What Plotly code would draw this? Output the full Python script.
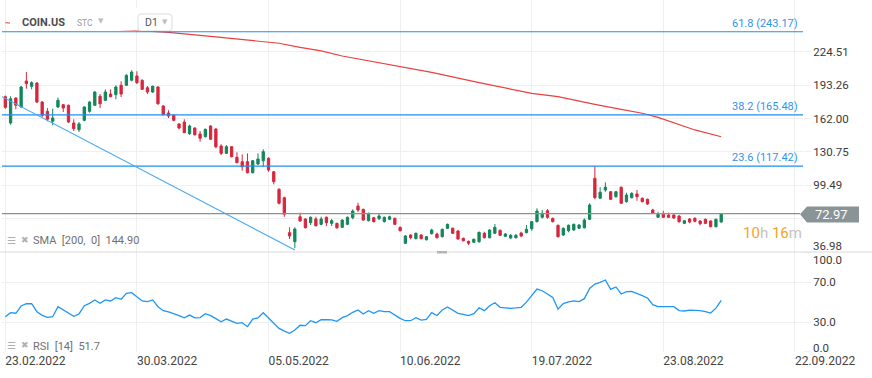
import plotly.graph_objects as go

# ---------------- data ----------------
bar_index = list(range(137))
opens = [182.4,157.8,181.2,172.8,197.1,192.1,195.2,177.4,168.7,159.4,172.8,174.9,174.4,157.8,151.5,160.3,168.7,174.4,182.8,179.0,
         184.9,184.3,193.1,193.1,197.8,201.8,197.8,190.8,186.8,191.5,173.7,167.2,165.0,156.9,158.7,147.8,153.1,147.5,145.0,155.0,
         152.2,136.3,129.4,135.6,125.7,121.6,121.6,111.3,119.4,122.5,124.8,112.2,95.8,87.9,55.2,46.7,70.1,68.0,64.5,68.0,
         63.0,69.6,63.9,63.9,60.2,63.0,69.2,80.1,77.0,66.4,69.2,68.3,65.5,67.7,68.6,60.2,45.2,53.0,49.6,53.0,
         48.6,54.2,53.9,51.4,59.3,59.3,56.8,49.9,47.1,46.2,46.7,54.6,50.5,54.6,57.4,51.8,50.2,50.5,54.9,55.2,
         58.9,65.5,69.6,75.7,68.6,62.1,53.0,57.0,57.7,59.3,59.8,67.7,106.1,87.4,95.1,93.5,88.9,97.7,84.2,87.9,
         91.4,87.4,86.4,76.4,69.6,72.4,71.7,71.7,70.8,63.9,68.0,68.6,66.1,67.7,66.1,60.8,65.2]
highs = [183.5,182.8,181.8,192.4,205.5,196.8,196.0,178.4,171.8,171.2,181.5,175.6,175.0,161.3,158.7,173.4,178.1,187.5,184.9,189.3,
         189.3,193.1,196.8,203.4,207.1,206.2,198.5,192.4,192.8,192.2,174.5,169.7,165.8,157.6,161.3,156.2,153.8,150.3,152.6,155.7,
         152.9,137.9,137.2,136.3,130.4,128.5,129.4,123.2,129.4,133.2,125.7,112.9,96.7,88.9,60.2,60.2,73.9,68.7,70.3,70.1,
         70.1,70.3,68.0,64.6,67.7,70.3,77.0,83.2,77.7,74.0,70.0,73.3,70.3,71.1,69.3,60.9,53.0,53.7,55.3,53.7,
         52.1,58.9,55.2,59.0,63.7,60.0,57.5,50.6,47.8,49.7,56.2,56.1,58.4,63.3,58.1,54.9,53.9,53.9,56.1,62.4,
         66.1,78.0,76.4,77.3,69.3,62.8,60.0,62.8,63.7,63.1,68.6,82.7,117.4,97.7,102.3,94.2,94.2,98.4,92.6,93.0,
         95.1,88.1,87.1,77.6,74.8,75.7,73.9,72.4,71.5,67.1,68.9,69.6,66.8,68.4,66.8,68.4,73.6]
lows = [171.0,156.2,170.6,171.8,189.9,189.3,176.5,163.4,159.4,155.7,172.1,168.1,158.0,150.3,149.4,159.4,167.4,173.8,171.8,178.4,
        181.8,180.0,182.1,192.4,196.8,194.3,188.7,184.9,186.0,175.0,164.8,162.5,159.5,151.9,148.4,146.8,146.0,140.3,144.2,142.0,
        134.1,127.8,128.8,125.6,120.1,113.2,110.7,110.6,118.5,116.9,112.2,100.4,81.7,70.1,49.3,40.6,65.5,59.2,62.4,61.0,
        62.1,61.4,61.4,58.9,59.5,62.3,67.7,74.5,66.3,65.7,64.8,67.0,64.8,67.0,62.3,56.3,44.6,49.0,48.9,48.9,
        47.9,53.5,49.8,50.7,58.6,53.9,48.6,47.0,43.7,45.5,45.8,49.8,49.8,53.9,52.0,51.1,49.3,49.6,50.9,54.6,
        57.0,64.8,68.6,68.3,64.8,50.7,52.1,55.5,57.0,58.6,59.1,67.0,86.4,86.7,93.5,85.7,87.9,82.0,83.3,87.2,
        85.1,83.5,81.1,72.7,68.9,68.9,68.9,68.2,64.5,63.2,63.9,64.9,62.1,63.2,60.1,60.1,64.5]
closes = [172.5,180.5,174.4,191.5,194.6,195.5,177.4,165.0,161.3,162.5,179.0,171.8,158.7,152.5,156.9,172.8,177.4,186.8,175.8,186.8,
          182.4,191.5,184.9,202.4,205.5,195.5,189.3,186.8,192.1,175.8,165.6,164.3,160.3,153.1,148.7,155.0,146.8,143.5,151.9,142.6,
          135.6,129.4,135.6,126.3,120.7,116.9,111.3,122.5,124.1,131.0,113.8,102.9,82.7,72.4,52.1,58.6,66.1,59.8,69.6,61.7,
          68.0,64.5,66.4,59.8,67.0,69.6,75.5,76.4,67.0,73.3,65.5,70.8,69.6,70.1,63.0,57.0,52.1,50.5,54.6,49.6,
          51.4,57.7,50.5,58.3,63.0,54.6,49.3,47.7,45.2,49.0,55.5,50.5,57.7,60.2,52.7,53.9,52.7,52.7,52.1,58.3,
          65.5,75.5,73.3,69.6,65.5,51.4,59.3,62.1,63.0,62.4,67.0,81.1,88.0,93.0,97.7,86.4,93.5,82.7,90.4,92.0,
          88.9,84.2,82.0,73.3,72.4,69.6,69.6,68.9,65.5,66.4,65.2,65.8,63.6,63.9,60.8,67.7,72.97]

sma_bars = [0, 10, 20, 31, 40, 52, 56, 60, 64, 70, 75, 81, 90, 100, 105, 109, 112, 117, 121, 124, 128, 131, 136]
sma_values = [251.6, 248.8, 245.9, 242.6, 238.3, 232.4, 228.6, 225.2, 220.5, 215.3, 210.5, 205.2, 195.5, 185.6,
              182.4, 178.7, 175.3, 170.5, 166.9, 163.1, 156.5, 151.3, 144.9]

rsi_values = [35.3,39.4,38.8,46.1,48.4,48.4,40.4,36.7,34.7,35.3,45.4,42.1,38.8,35.7,38.1,46.4,48.8,52.2,48.8,52.2,
              51.2,54.5,52.9,58.9,59.5,55.5,51.2,50.5,52.2,45.4,41.4,40.2,38.5,36.5,34.2,37.0,34.2,34.4,38.4,36.4,
              33.4,30.3,33.0,30.7,28.7,29.3,25.3,33.0,34.1,39.4,34.4,29.3,23.6,20.9,18.6,21.9,26.7,26.3,31.3,29.3,
              32.3,32.3,32.2,30.7,34.4,36.4,39.8,42.1,38.1,41.4,38.8,41.4,40.4,40.4,37.1,33.7,31.3,31.3,34.4,32.0,
              32.7,39.4,36.5,42.1,45.1,42.1,38.8,37.8,36.4,38.4,44.4,41.4,46.4,49.4,44.8,44.3,43.8,44.2,44.8,50.0,
              57.2,63.2,61.5,58.5,54.8,43.0,48.5,50.2,51.2,50.5,53.5,63.8,68.2,70.0,72.3,62.9,65.3,58.2,60.5,60.9,
              59.0,56.5,54.2,47.5,45.4,45.4,45.4,45.4,41.5,41.1,42.0,42.1,41.5,40.4,39.0,44.0,51.7]

date_ticks = [0, 25, 50, 75, 100, 125, 150]
date_labels = ["23.02.2022", "30.03.2022", "05.05.2022", "10.06.2022", "19.07.2022", "23.08.2022", "22.09.2022"]

price_ticks = [224.51, 193.26, 162.00, 130.75, 99.49, 68.24, 36.98]
price_tick_labels = ["224.51", "193.26", "162.00", "130.75", "99.49", "68.24", "36.98"]
rsi_ticks = [0, 30, 70, 100]
rsi_tick_labels = ["0.0", "30.0", "70.0", "100.0"]

fib_ratios = ["61.8", "38.2", "23.6"]
fib_prices = [243.17, 165.48, 117.42]

trend_bars = [-0.63, 55.0]
trend_prices = [182.4, 39.0]

last_price = 72.97
sma_last = 144.90
rsi_last = 51.7
symbol = "COIN.US"
countdown = ("10", "h", "16", "m")

# ---------------- helpers (pixel -> paper) ----------------
W, H = 872, 378
ML, MR, MT, MB = 2, 69, 0, 26
PW, PH = W - ML - MR, H - MT - MB


def fx(px):
    return (px - ML) / PW


def fy(py):
    return (PH - (py - MT)) / PH


split = fy(252)

RED = "#d7263d"
GREEN = "#13875a"
BLUE = "#1f8ff0"
GRID = "#efefef"
FONT = "Roboto"

fig = go.Figure()

fig.add_trace(go.Candlestick(
    x=bar_index, open=opens, high=highs, low=lows, close=closes,
    increasing=dict(line=dict(color=GREEN, width=1), fillcolor=GREEN),
    decreasing=dict(line=dict(color=RED, width=1), fillcolor=RED),
    whiskerwidth=0, xaxis="x", yaxis="y", showlegend=False, hoverinfo="skip"))

fig.add_trace(go.Scatter(x=sma_bars, y=sma_values, mode="lines",
                         line=dict(color="#e8413f", width=1.2), xaxis="x", yaxis="y",
                         showlegend=False, hoverinfo="skip"))

fig.add_trace(go.Scatter(x=bar_index, y=rsi_values, mode="lines",
                         line=dict(color="#2196f3", width=1.3), xaxis="x", yaxis="y2",
                         showlegend=False, hoverinfo="skip"))

# labels drawn separately (edge labels) or hidden under the last-price box
edge_price = {"36.98"}
hidden_price = {"68.24"}
edge_rsi = {"0.0", "100.0"}

fig.update_layout(
    width=W, height=H, margin=dict(l=ML, r=MR, t=MT, b=MB),
    paper_bgcolor="white", plot_bgcolor="white",
    font=dict(family=FONT, color="#3a3a3a"),
    boxgap=0.38,
    xaxis=dict(range=[-0.63, (803 - 5.3) / 5.264], anchor="y2",
               tickvals=date_ticks, ticktext=date_labels,
               showgrid=True, gridcolor=GRID, gridwidth=1, zeroline=False, showline=False,
               ticks="", ticklabelposition="outside right",
               tickfont=dict(size=12, color="#444"),
               rangeslider=dict(visible=False), fixedrange=True),
    yaxis=dict(domain=[split, 1], range=[272.88 - 0.9356 * 252, 272.88], side="right",
               tickvals=price_ticks,
               ticktext=["" if (t in edge_price or t in hidden_price) else t for t in price_tick_labels],
               showgrid=True, gridcolor=GRID, zeroline=False, showline=False,
               ticks="outside", ticklen=7, tickcolor=GRID,
               tickfont=dict(size=11.5, color="#3a3a3a"), fixedrange=True),
    yaxis2=dict(domain=[0, split], range=[-0.2, 100.5], side="right",
                tickvals=rsi_ticks,
                ticktext=["" if t in edge_rsi else t for t in rsi_tick_labels],
                showgrid=True, gridcolor=GRID, zeroline=False, showline=False,
                ticks="outside", ticklen=7, tickcolor=GRID,
                tickfont=dict(size=11.5, color="#3a3a3a"), fixedrange=True),
)

shapes = []
# legend header background hiding the SMA line
shapes.append(dict(type="rect", xref="paper", yref="paper", x0=fx(10), x1=fx(172), y0=fy(30.5), y1=fy(8),
                   fillcolor="white", line=dict(width=0), layer="above"))
# D1 box (rounded)
x0, x1, y0, y1, r = fx(138), fx(172), fy(14), fy(31), 0.004
ry = r * PW / PH
shapes.append(dict(type="path", xref="paper", yref="paper",
                   path=(f"M {x0+r},{y0} L {x1-r},{y0} Q {x1},{y0} {x1},{y0-ry} L {x1},{y1+ry} "
                         f"Q {x1},{y1} {x1-r},{y1} L {x0+r},{y1} Q {x0},{y1} {x0},{y1+ry} "
                         f"L {x0},{y0-ry} Q {x0},{y0} {x0+r},{y0} Z"),
                   line=dict(color="#dcdcdc", width=1), fillcolor="white", layer="above"))
# fibonacci levels
for p in fib_prices:
    shapes.append(dict(type="line", xref="paper", yref="y", x0=0, x1=1, y0=p, y1=p,
                       line=dict(color=BLUE, width=1.2), layer="above"))
# trendline
shapes.append(dict(type="line", xref="x", yref="y", x0=trend_bars[0], x1=trend_bars[1],
                   y0=trend_prices[0], y1=trend_prices[1],
                   line=dict(color="#45a8f5", width=1.1), layer="above"))
# current price line
shapes.append(dict(type="line", xref="paper", yref="y", x0=0, x1=fx(800), y0=last_price, y1=last_price,
                   line=dict(color="#8a9295", width=1.2), layer="above"))
# price label box
shapes.append(dict(type="path", xref="paper", yref="paper",
                   path=(f"M {fx(800)},{fy(214.3)} L {fx(807)},{fy(206.5)} L {fx(859)},{fy(206.5)} "
                         f"L {fx(859)},{fy(222.5)} L {fx(807)},{fy(222.5)} Z"),
                   fillcolor="#8a9396", line=dict(width=0), layer="above"))
# pane separator
shapes.append(dict(type="line", xref="paper", yref="paper", x0=fx(0), x1=fx(872), y0=split, y1=split,
                   line=dict(color="#d9d9d9", width=1), layer="above"))
shapes.append(dict(type="rect", xref="paper", yref="paper", x0=fx(437), x1=fx(447), y0=fy(253.5), y1=fy(251),
                   fillcolor="#b5b5b5", line=dict(width=0), layer="above"))
fig.update_layout(shapes=shapes)

ann = []
for ratio, p in zip(fib_ratios, fib_prices):
    ann.append(dict(text=f"{ratio} ({p:.2f})", xref="paper", yref="y", x=fx(800), y=p,
                    xanchor="right", yanchor="bottom", yshift=0, showarrow=False,
                    font=dict(size=11, color="#2f94ee", family=FONT)))
ann.append(dict(text=f"{last_price:.2f}", xref="paper", yref="paper", x=fx(831), y=fy(214.5),
                xanchor="center", yanchor="middle", showarrow=False,
                font=dict(size=13, color="white", family=FONT)))
ann.append(dict(text=(f'<span style="color:#f5a323">{countdown[0]}</span><span style="color:#c4c4c4">{countdown[1]}</span> '
                      f'<span style="color:#f5a323">{countdown[2]}</span><span style="color:#c4c4c4">{countdown[3]}</span>'),
                xref="paper", yref="paper", x=fx(804), y=fy(233), xanchor="right", yanchor="middle",
                showarrow=False, font=dict(size=15, family=FONT)))
# edge axis labels
edge_positions = {"36.98": 246.5, "100.0": 260.0, "0.0": 347.5}
for lab, py in edge_positions.items():
    ann.append(dict(text=lab, xref="paper", yref="paper", x=fx(811), y=fy(py), xanchor="left",
                    yanchor="middle", showarrow=False, font=dict(size=11.5, color="#3a3a3a", family=FONT)))
# header
ann.append(dict(text=f"<b>{symbol}</b>", xref="paper", yref="paper", x=fx(20), y=fy(22.5), xanchor="left",
                yanchor="middle", showarrow=False, font=dict(size=11, color="#4d4d4d", family=FONT)))
ann.append(dict(text="STC", xref="paper", yref="paper", x=fx(75), y=fy(23), xanchor="left",
                yanchor="middle", showarrow=False, font=dict(size=8.5, color="#9a9a9a", family=FONT)))
ann.append(dict(text="▼", xref="paper", yref="paper", x=fx(96), y=fy(21), xanchor="left",
                yanchor="middle", showarrow=False, font=dict(size=7, color="#bdbdbd", family="DejaVu Sans")))
ann.append(dict(text="D1", xref="paper", yref="paper", x=fx(142.5), y=fy(22.5), xanchor="left",
                yanchor="middle", showarrow=False, font=dict(size=10.5, color="#555", family=FONT)))
ann.append(dict(text="▼", xref="paper", yref="paper", x=fx(160), y=fy(22), xanchor="left",
                yanchor="middle", showarrow=False, font=dict(size=7, color="#bdbdbd", family="DejaVu Sans")))
# indicator legends
for py, label in [(241, f"SMA  [200,  0]  {sma_last:.2f}"), (346, f"RSI  [14]  {rsi_last}")]:
    ann.append(dict(text="☰", xref="paper", yref="paper", x=fx(5), y=fy(py - 1), xanchor="left",
                    yanchor="middle", showarrow=False, font=dict(size=10, color="#b0b0b0", family="DejaVu Sans")))
    ann.append(dict(text="✖", xref="paper", yref="paper", x=fx(19), y=fy(py - 1), xanchor="left",
                    yanchor="middle", showarrow=False, font=dict(size=9, color="#b0b0b0", family="DejaVu Sans")))
    ann.append(dict(text=label, xref="paper", yref="paper", x=fx(31), y=fy(py), xanchor="left",
                    yanchor="middle", showarrow=False, font=dict(size=11, color="#707070", family=FONT)))
fig.update_layout(annotations=ann)

fig.write_html("out.html", config=dict(displayModeBar=False, staticPlot=True),
               post_script="document.body.style.margin='0px';")
